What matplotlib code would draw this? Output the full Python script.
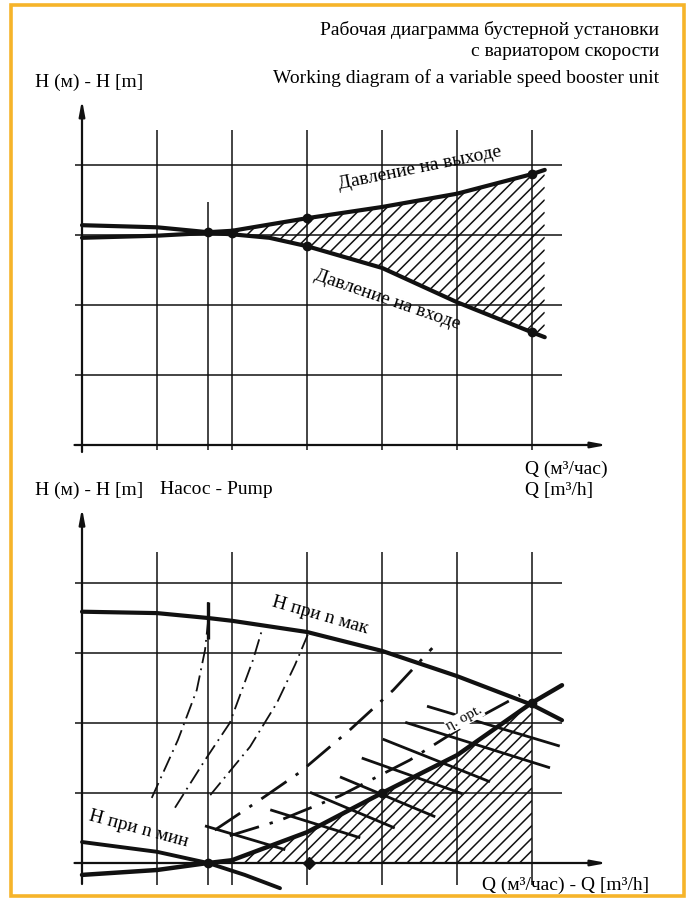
import numpy as np
import matplotlib.pyplot as plt
from matplotlib.patches import Polygon, Rectangle
from matplotlib.collections import LineCollection

plt.rcParams['font.family'] = ['Liberation Serif', 'DejaVu Serif']

# grid divisions (Q and H counted in drawing divisions)
q_grid = [1, 2, 3, 4, 5, 6]
h_grid = [1, 2, 3, 4]
q_cross = 1.68  # extra vertical where the curves meet

# upper diagram: outlet / inlet pressure
q_out = [0, 1, 1.68, 2, 3, 4, 5, 6, 6.17]
h_out = [3.14, 3.11, 3.04, 3.06, 3.24, 3.40, 3.59, 3.87, 3.93]
q_in = [0, 1, 1.68, 2, 2.5, 3, 4, 5, 6, 6.17]
h_in = [2.96, 2.99, 3.03, 3.01, 2.96, 2.84, 2.53, 2.04, 1.61, 1.54]
dots_top_q = [1.68, 2, 3, 3, 6, 6]
dots_top_h = [3.04, 3.03, 3.24, 2.84, 3.87, 1.61]

# lower diagram: pump
q_nmax = [0, 1, 1.68, 2, 3, 4, 5, 6, 6.4]
h_nmax = [3.59, 3.57, 3.5, 3.46, 3.3, 3.03, 2.67, 2.26, 2.04]
q_nmin = [0, 1, 1.68, 2.17, 2.64]
h_nmin = [0.3, 0.16, 0, -0.17, -0.36]
q_sys = [0, 1, 1.68, 2, 3, 4, 5, 6, 6.4]
h_sys = [-0.17, -0.1, 0, 0.04, 0.44, 1.0, 1.54, 2.29, 2.54]
dots_bot_q = [1.68, 4, 6]
dots_bot_h = [0, 1.0, 2.29]
diamond_q, diamond_h = 3.03, 0

# intermediate speed curves (start, end)
speed_q = [(4.6, 6.37), (4.31, 6.24), (4.01, 5.44), (3.73, 5.07),
           (3.44, 4.71), (3.04, 4.17), (2.51, 3.71), (1.64, 2.71)]
speed_h = [(2.24, 1.67), (2.01, 1.36), (1.77, 1.16), (1.5, 0.99),
           (1.23, 0.66), (1.01, 0.5), (0.76, 0.36), (0.53, 0.19)]

# efficiency curves (dash-dot)
eff_q = [[0.93, 1.28, 1.53, 1.64, 1.68],
         [1.24, 1.64, 1.97, 2.28, 2.4],
         [1.71, 2.24, 2.6, 2.84, 3.01],
         [1.77, 2.37, 2.91, 3.57, 4.15, 4.67],
         [1.97, 2.64, 3.44, 4.37, 5.17, 5.84]]
eff_h = [[0.93, 1.76, 2.47, 3.04, 3.44],
         [0.79, 1.47, 2.0, 2.9, 3.33],
         [0.97, 1.66, 2.29, 2.83, 3.26],
         [0.47, 0.9, 1.3, 1.9, 2.47, 3.07],
         [0.39, 0.61, 0.96, 1.47, 2.01, 2.4]]
eff_bold = [False, False, False, True, True]

W, H = 692, 900
UX, UY = 75, 70  # pixels per division
INK = '#111111'
FS = 14

fig = plt.figure(figsize=(W / 100, H / 100), dpi=100)


def chart_axes(ox, oy, xlim, ylim):
    left = (ox + UX * xlim[0]) / W
    bottom = (H - oy + UY * ylim[0]) / H
    ax = fig.add_axes([left, bottom, UX * (xlim[1] - xlim[0]) / W,
                       UY * (ylim[1] - ylim[0]) / H])
    ax.set_xlim(xlim)
    ax.set_ylim(ylim)
    ax.set_axis_off()
    return ax


def frame(ax, vtop, vbot, xtop, ytip, ybot):
    ax.hlines(h_grid, -0.1, 6.4, color=INK, lw=1.1)
    ax.vlines(q_grid, vbot, vtop, color=INK, lw=1.1)
    ax.vlines(q_cross, vbot, xtop, color=INK, lw=1.1)
    ap = dict(arrowstyle='-|>,head_length=0.9,head_width=0.17', lw=1.6,
              color=INK, shrinkA=0, shrinkB=0)
    ax.annotate('', xy=(7.0, 0), xytext=(-0.1, 0), arrowprops=ap)
    ax.annotate('', xy=(0, ytip), xytext=(0, ybot), arrowprops=ap)


def hatch(ax, qs, hs, step=12.5):
    poly = Polygon(np.column_stack([qs, hs]), closed=True, fill=False, lw=0)
    ax.add_patch(poly)
    k = UX / UY
    x0, x1 = min(qs), max(qs)
    offs = np.arange(min(hs) - k * x1, max(hs) - k * x0, step / UY)
    segs = [[(x0, k * x0 + b), (x1, k * x1 + b)] for b in offs]
    lc = LineCollection(segs, colors=INK, linewidths=1.1)
    ax.add_collection(lc)
    lc.set_clip_path(poly)


def label(ax, x, y, s, rot, size=FS, **kw):
    ax.text(x, y, s, rotation=rot, fontsize=size, ha='center', va='center',
            rotation_mode='anchor', **kw)


# ---------------- upper diagram ----------------
ax1 = chart_axes(82, 445, (-0.4, 7.3), (-0.5, 5.2))
frame(ax1, 4.5, -0.07, 3.47, 4.93, -0.1)

top_q = [q for q in q_out if q >= 2] + [q for q in q_in if q >= 2][::-1]
top_h = [h for q, h in zip(q_out, h_out) if q >= 2] + \
        [h for q, h in zip(q_in, h_in) if q >= 2][::-1]
hatch(ax1, top_q, top_h)
ax1.plot(q_out, h_out, color=INK, lw=3.0, solid_capstyle='round')
ax1.plot(q_in, h_in, color=INK, lw=3.0, solid_capstyle='round')
ax1.plot(dots_top_q, dots_top_h, 'o', color=INK, ms=6)
label(ax1, 4.5, 3.96, 'Давление на выходе', 11.5)
label(ax1, 4.07, 2.07, 'Давление на входе', -19)

# ---------------- lower diagram ----------------
ax2 = chart_axes(82, 863, (-0.4, 7.3), (-0.5, 5.3))
frame(ax2, 4.44, -0.31, 3.73, 5.07, -0.3)
ax2.vlines(q_cross, 3.2, 3.73, color=INK, lw=2.4)

bot_q = [q for q in q_sys if 2 <= q <= 6] + [6, 2]
bot_h = [h for q, h in zip(q_sys, h_sys) if 2 <= q <= 6] + [0, 0]
hatch(ax2, bot_q, bot_h)

for qs, hs, bold in zip(eff_q, eff_h, eff_bold):
    ln, = ax2.plot(qs, hs, color=INK, lw=2.0 if bold else 1.3)
    ln.set_dashes((11, 4, 1.2, 4) if bold else (9, 3, 1, 3))

for qs, hs in zip(speed_q, speed_h):
    ax2.plot(qs, hs, color=INK, lw=2.0, solid_capstyle='butt')

ax2.plot(q_nmax, h_nmax, color=INK, lw=3.0, solid_capstyle='round')
ax2.plot(q_nmin, h_nmin, color=INK, lw=2.8, solid_capstyle='round')
ax2.plot(q_sys, h_sys, color=INK, lw=3.2, solid_capstyle='round')
ax2.plot(dots_bot_q, dots_bot_h, 'o', color=INK, ms=6)
ax2.plot(diamond_q, diamond_h, 'D', color=INK, ms=6)

label(ax2, 3.17, 3.54, 'H при n мак', -16)
label(ax2, 0.76, 0.48, 'H при n мин', -15)
label(ax2, 5.1, 2.07, 'η. opt.', 28, size=11,
      bbox=dict(fc='white', ec='none', pad=0.5))


# ---------------- headings ----------------
def ftext(x, y, s, **kw):
    fig.text(x / W, 1 - y / H, s, fontsize=FS, va='center', **kw)


ftext(659, 30, 'Рабочая диаграмма бустерной установки', ha='right')
ftext(659, 52, 'с вариатором скорости', ha='right')
ftext(659, 78, 'Working diagram of a variable speed booster unit', ha='right')
ftext(35, 82, 'H (м) - H [m]', ha='left')
ftext(525, 469, 'Q (м³/час)', ha='left')
ftext(525, 491, 'Q [m³/h]', ha='left')
ftext(35, 490, 'H (м) - H [m]', ha='left')
ftext(160, 490, 'Насос - Pump', ha='left')
ftext(649, 885, 'Q (м³/час) - Q [m³/h]', ha='right')

fig.patches.append(Rectangle((11 / W, 1 - 896 / H), 673 / W, 891 / H,
                             transform=fig.transFigure, fill=False,
                             ec='#F6B42A', lw=2.6))

fig.savefig('out.png', dpi=100)
